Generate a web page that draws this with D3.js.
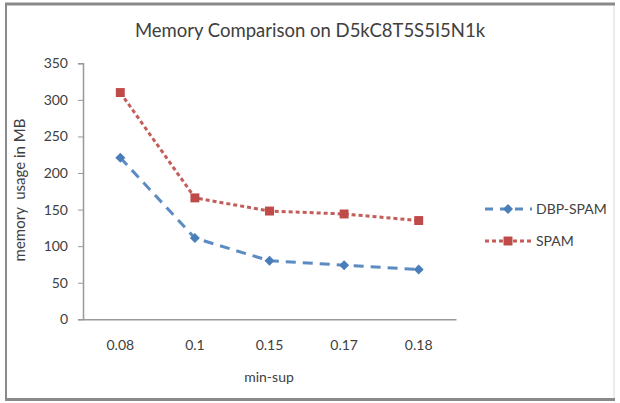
<!DOCTYPE html>
<html><head><meta charset="utf-8">
<script src="https://cdn.jsdelivr.net/npm/d3@7"></script>
<style>body{margin:0;background:#fff}svg{display:block}text{font-family:Lato,"Open Sans",sans-serif;fill:#404040}</style>
</head><body><svg id="c" width="620" height="403"></svg>
<script>
const title = "Memory Comparison on D5kC8T5S5I5N1k";
const categories = ["0.08","0.1","0.15","0.17","0.18"];
const dbpSpam = [221,111,80,74,68];
const spam = [310,166,148,144,135];
const yTicks = [0,50,100,150,200,250,300,350];
const seriesNames = ["DBP-SPAM","SPAM"];
const xTitle = "min-sup", yTitle = "memory  usage in MB";

const svg = d3.select("#c");
// frame
svg.append("rect").attr("x",6).attr("y",4).attr("width",608).attr("height",395)
  .attr("fill","#fff").attr("stroke","#d8d8d8").attr("stroke-width",1);
svg.append("line").attr("x1",5).attr("x2",615).attr("y1",4).attr("y2",4).attr("stroke","#8a8a8a").attr("stroke-width",3);
svg.append("line").attr("x1",5).attr("x2",615).attr("y1",399.5).attr("y2",399.5).attr("stroke","#8a8a8a").attr("stroke-width",3);
svg.append("line").attr("x1",6).attr("x2",6).attr("y1",4).attr("y2",400).attr("stroke","#8a8a8a").attr("stroke-width",2);

const x = d3.scaleBand().domain(categories).range([83,456]);
const y = d3.scaleLinear().domain([0,350]).range([319.3,63.3]);

svg.append("text").attr("x",310).attr("y",37).attr("text-anchor","middle").style("font-size","18.5px").text(title);

const yAxis = svg.append("g").attr("transform","translate(83,0)")
  .call(d3.axisLeft(y).tickValues(yTicks).tickSize(5).tickPadding(10));
yAxis.select(".domain").attr("stroke","#999").attr("stroke-width",1.5);
yAxis.selectAll(".tick line").attr("stroke","#999");
yAxis.selectAll("text").style("font-size","14px").attr("fill","#404040").style("font-family","Lato,sans-serif");

const xAxis = svg.append("g").attr("transform","translate(0,319.3)")
  .call(d3.axisBottom(x).tickSize(0).tickPadding(21));
xAxis.select(".domain").attr("stroke","#999").attr("stroke-width",1.5);
xAxis.selectAll("text").style("font-size","14px").attr("fill","#404040").style("font-family","Lato,sans-serif");

svg.append("text").attr("x",269).attr("y",382).attr("text-anchor","middle").style("font-size","14px").text(xTitle);
svg.append("text").attr("transform","translate(25,190) rotate(-90)").attr("text-anchor","middle")
  .style("font-size","15px").style("white-space","pre").text(yTitle);

const cx = d => x(d) + x.bandwidth()/2;
const series = [
  {name:seriesNames[0], vals:dbpSpam, color:"#4a7ebb", dash:"10,7", rot:45, size:50},
  {name:seriesNames[1], vals:spam, color:"#be4b48", dash:"4,3", rot:0, size:80}
];
const line = d3.line().x((d,i)=>cx(categories[i])).y(d=>y(d));
series.forEach((s,k)=>{
  svg.append("path").attr("d",line(s.vals)).attr("fill","none").attr("stroke",s.color)
    .attr("stroke-width",3).attr("stroke-dasharray",s.dash).attr("opacity",0.9);
  svg.selectAll(null).data(s.vals).enter().append("path")
    .attr("transform",(d,i)=>`translate(${cx(categories[i])},${y(d)}) rotate(${s.rot})`)
    .attr("d",d3.symbol().type(d3.symbolSquare).size(s.size)).attr("fill",s.color);
  const ly = 209 + k*32;
  svg.append("line").attr("x1",485).attr("x2",532).attr("y1",ly).attr("y2",ly)
    .attr("stroke",s.color).attr("stroke-width",3).attr("stroke-dasharray",k===0?"8,7":"4,3").attr("opacity",0.9);
  svg.append("path").attr("transform",`translate(508,${ly}) rotate(${s.rot})`)
    .attr("d",d3.symbol().type(d3.symbolSquare).size(s.size)).attr("fill",s.color);
  svg.append("text").attr("x",536).attr("y",ly+5).style("font-size","14px").text(s.name);
});
</script></body></html>
